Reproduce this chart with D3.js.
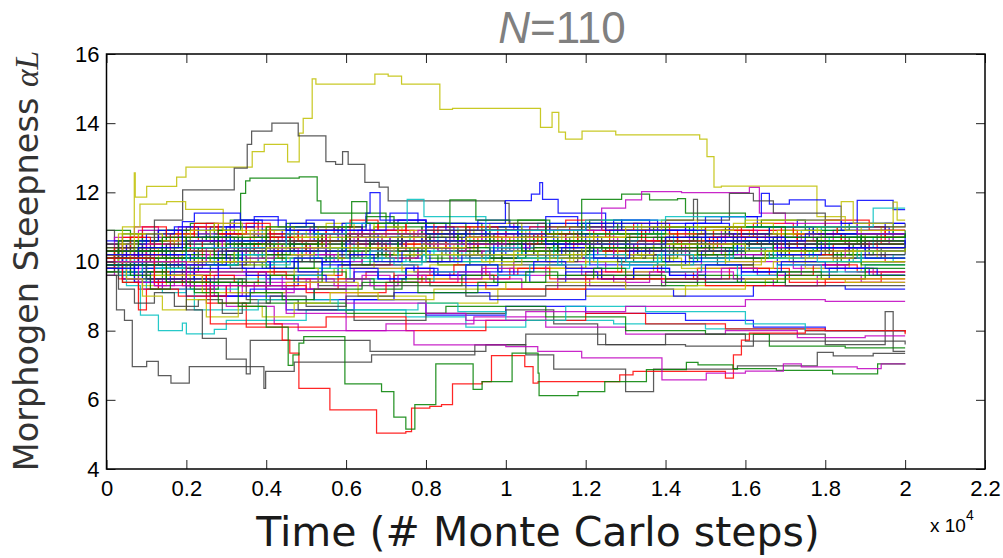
<!DOCTYPE html>
<html><head><meta charset="utf-8">
<script src="https://cdn.jsdelivr.net/npm/d3@7"></script>
<style>body{margin:0;background:#fff}svg{display:block}</style>
</head><body>
<svg id="chart" width="1003" height="558"></svg>
<script>
// ---------- DATA (time in units of 10^4 Monte Carlo steps, value = alpha*L) ----------
const xTickValues = [0,0.2,0.4,0.6,0.8,1,1.2,1.4,1.6,1.8,2,2.2];
const yTickValues = [4,6,8,10,12,14,16];
const titleText = "=110";
const titleItalic = "N";
const xLabel = "Time (# Monte Carlo steps)";
const yLabelMain = "Morphogen Steepness ";
const yLabelMath = "αL";

// prominent upper excursions  [time (x10^4), value]
const highYellow = [[0,10.0],[0.06,10.3],[0.0696,12.56],[0.072,11.86],[0.1006,12.17],[0.1757,12.44],[0.199,12.73],[0.3649,13.18],[0.395,13.39],[0.4535,12.88],[0.4826,13.71],[0.4926,14.14],[0.5151,15.28],[0.5244,15.13],[0.6721,15.42],[0.7054,15.36],[0.7389,15.13],[0.8348,14.40],[0.8665,14.43],[1.0868,13.88],[1.1158,14.31],[1.1326,13.74],[1.1494,13.54],[1.1909,13.77],[1.2753,13.66],[1.4855,13.54],[1.5038,13.03],[1.5213,12.15],[1.5398,12.18],[1.7791,11.3],[1.85,10.9],[2.0,10.9]];
const highGray = [[0,10.4],[0.12,11.2],[0.1907,12.07],[0.3199,12.70],[0.3524,13.39],[0.3634,13.77],[0.4142,14.0],[0.4801,13.63],[0.5494,12.89],[0.5737,12.81],[0.5912,13.18],[0.6052,12.81],[0.647,12.29],[0.6828,12.15],[0.7054,11.75],[0.9975,11.68],[1.0082,11.1],[1.1,10.6],[1.35,10.3],[1.6,10.5],[2.0,10.2]];
const highGreen = [[0,9.9],[0.15,10.4],[0.28,10.9],[0.3359,11.97],[0.3484,12.33],[0.3592,12.41],[0.4826,12.45],[0.5276,11.75],[0.5369,11.4],[0.7,11.1],[0.9,10.6],[1.2,10.4],[1.5,10.6],[2.0,10.3]];
const midYellow = [[0,10.2],[0.04,11.0],[0.0838,11.66],[0.1507,11.73],[0.1982,11.51],[0.2923,10.9],[0.5,10.7],[0.8,10.2],[1.2,10.5],[1.6,10.3],[2.0,10.6]];
const spikeBlue = [[0,10.2],[0.2,10.6],[0.45,10.9],[0.7,11.1],[0.999,11.76],[1.064,11.95],[1.085,12.28],[1.092,11.80],[1.131,11.40],[1.25,10.9],[1.5,10.6],[1.75,10.8],[2.0,10.5]];
const upperGreen = [[0,10.1],[0.3,10.5],[0.6,10.8],[0.9,10.6],[1.19,11.80],[1.29,11.95],[1.36,11.78],[1.43,11.82],[1.45,11.4],[1.6,11.0],[1.8,10.7],[2.0,10.9]];
const upperMagenta = [[0,10.0],[0.25,10.4],[0.55,10.8],[0.8,10.5],[1.0,10.9],[1.24,11.54],[1.30,11.78],[1.34,12.02],[1.44,11.99],[1.61,12.14],[1.635,11.4],[1.70,11.1],[1.88,10.8],[2.0,10.8]];
const upperBlue = [[0,9.9],[0.3,10.3],[0.6,10.6],[0.9,10.9],[1.2,11.1],[1.5,11.3],[1.64,11.97],[1.66,11.66],[1.71,11.78],[1.80,11.6],[1.84,11.1],[1.88,11.77],[1.97,11.5],[2.0,11.5]];
const upperGray = [[0,10.3],[0.4,10.6],[0.8,10.9],[1.1,11.0],[1.4,11.2],[1.47,11.8],[1.48,11.2],[1.56,11.97],[1.62,11.75],[1.67,11.40],[1.8,11.0],[2.0,11.1]];
const earlyBlue = [[0,9.8],[0.08,10.4],[0.19,11.15],[0.22,11.40],[0.30,11.40],[0.335,11.2],[0.45,10.9],[0.65,11.4],[0.66,11.99],[0.685,11.2],[0.8,10.8],[1.1,10.5],[1.4,10.7],[1.7,10.4],[2.0,10.6]];
const upperCyan = [[0,10.0],[0.2,10.4],[0.45,10.8],[0.6,11.1],[0.753,11.80],[0.795,11.3],[0.95,10.9],[1.2,11.2],[1.4,11.3],[1.6,11.0],[1.92,11.54],[2.0,11.54]];
const upperGreen2 = [[0,10.3],[0.2,10.7],[0.4,11.0],[0.614,11.73],[0.652,11.1],[0.86,11.78],[0.925,11.2],[1.1,10.8],[1.4,11.0],[1.7,10.7],[2.0,10.8]];
const upperYellow = [[0,10.0],[0.4,10.4],[0.9,10.7],[1.3,11.0],[1.6,11.2],[1.84,11.73],[1.87,11.1],[1.97,11.72],[1.98,11.2],[2.0,11.2]];

// prominent lower excursions
const lowGray = [[0,9.6],[0.025,8.6],[0.045,8.3],[0.0646,6.96],[0.1006,7.11],[0.1297,6.70],[0.1614,6.48],[0.2073,6.96],[0.3942,6.33],[0.3985,6.82],[0.4701,7.09],[0.6638,7.30],[0.9224,7.59],[1.05,7.3],[1.12,6.89],[1.30,6.24],[1.37,6.89],[1.58,6.98],[1.78,7.37],[1.82,7.27],[1.92,7.34],[2.0,7.34]];
const lowGray2 = [[0,10.1],[0.1,9.5],[0.2,8.6],[0.24,7.78],[0.3,7.18],[0.35,6.75],[0.36,7.72],[0.53,7.72],[0.66,7.4],[0.95,7.6],[1.05,7.9],[1.25,7.6],[1.4,7.9],[1.6,7.7],[2.0,7.6]];
const lowRed = [[0,10.1],[0.12,9.4],[0.26,8.2],[0.44,7.73],[0.459,7.35],[0.4818,6.33],[0.5594,5.71],[0.6763,5.04],[0.7496,5.08],[0.7639,5.76],[0.8097,5.81],[0.839,5.86],[0.8665,6.46],[0.9406,6.53],[0.9641,7.28],[1.0475,6.96],[1.0683,6.48],[1.0808,6.53],[1.2853,6.72],[1.3186,6.82],[1.55,6.63],[1.57,7.30],[1.59,7.73],[1.61,7.93],[1.75,8.0],[2.0,7.95]];
const lowGreen = [[0,9.9],[0.15,9.4],[0.33,8.7],[0.40,8.1],[0.455,7.0],[0.467,7.3],[0.482,7.64],[0.494,7.83],[0.597,6.46],[0.6888,6.24],[0.7196,5.50],[0.7496,5.15],[0.7722,5.86],[0.8247,7.04],[0.9181,6.30],[0.9406,6.53],[1.0157,7.35],[1.0808,6.77],[1.0833,6.12],[1.1809,6.24],[1.2478,6.53],[1.3521,6.87],[1.4522,7.08],[1.4813,7.01],[1.5689,6.90],[1.6775,6.85],[1.8184,6.75],[1.9311,7.04],[2.0,7.04]];
const lowMagenta = [[0,10.0],[0.2,9.3],[0.45,8.5],[0.6,8.0],[0.77,7.59],[1.0,7.54],[1.08,7.40],[1.19,7.21],[1.391,6.58],[1.502,6.77],[1.60,6.83],[1.695,7.04],[1.74,6.95],[1.88,6.90],[1.94,7.04],[2.0,7.06]];

// traces in the 7.5 - 9.5 range
const lowerBand = [
  [[0,9.9],[0.05,9.3],[0.085,8.45],[0.13,8.0],[0.19,8.22],[0.2,7.91],[0.27,8.04],[0.3,8.3],[0.5,8.6],[0.75,8.4],[0.9,8.1],[1.05,8.3],[1.27,8.2],[1.5,8.05],[1.75,8.0],[2.0,8.0]],
  [[0,10.0],[0.1,9.5],[0.26,9.0],[0.45,8.6],[0.62,8.9],[0.8,8.45],[1.0,8.7],[1.2,8.5],[1.45,8.3],[1.62,8.1],[1.8,8.0],[2.0,8.0]],
  [[0,10.1],[0.2,9.5],[0.35,8.9],[0.48,8.6],[0.62,8.3],[0.8,8.5],[1.0,8.6],[1.12,8.2],[1.23,7.6],[1.45,7.55],[1.62,7.9],[1.8,7.6],[1.95,8.55],[1.97,7.4],[2.0,7.4]],
  [[0,10.0],[0.12,9.3],[0.3,8.7],[0.42,8.2],[0.48,8.0],[0.7,8.2],[0.92,8.4],[1.1,8.1],[1.3,7.9],[1.55,8.0],[1.73,7.8],[1.9,7.85],[2.0,7.85]],
  [[0,10.2],[0.15,9.6],[0.25,8.8],[0.35,8.1],[0.55,8.4],[0.75,8.0],[0.95,8.3],[1.2,8.5],[1.35,8.2],[1.55,8.05],[1.8,8.0],[2.0,7.9]],
  [[0,9.9],[0.2,9.4],[0.4,8.8],[0.6,8.5],[0.85,8.7],[1.1,8.4],[1.3,8.0],[1.5,7.9],[1.66,7.55],[1.85,7.5],[2.0,7.5]],
  [[0,10.1],[0.1,9.6],[0.24,9.1],[0.45,9.4],[0.63,9.0],[0.8,8.8],[0.98,9.2],[1.2,9.0],[1.45,9.3],[1.65,9.5],[1.85,9.4],[2.0,9.4]],
  [[0,10.0],[0.07,9.4],[0.2,9.0],[0.36,9.2],[0.52,8.9],[0.72,9.1],[0.96,8.9],[1.2,9.2],[1.42,9.0],[1.62,9.3],[1.85,9.2],[2.0,9.2]],
  [[0,10.0],[0.1,9.2],[0.22,8.6],[0.38,8.9],[0.58,8.6],[0.78,8.8],[0.88,8.55],[1.0,8.3],[1.15,8.7],[1.35,8.55],[1.6,8.2],[1.75,8.0],[2.0,8.0]],
  [[0,9.9],[0.08,9.4],[0.2,9.7],[0.4,9.2],[0.6,8.8],[0.8,8.5],[0.9,8.3],[1.05,8.55],[1.3,8.7],[1.6,8.9],[1.8,8.85],[2.0,8.85]],
  [[0,10.0],[0.04,9.4],[0.08,8.6],[0.1,9.2],[0.18,9.0],[0.3,9.3],[0.5,9.1],[0.7,9.4],[0.95,9.2],[1.2,9.5],[1.5,9.3],[1.8,9.5],[2.0,9.5]],
  [[0,9.8],[0.03,9.2],[0.07,8.8],[0.12,9.1],[0.17,8.7],[0.23,8.9],[0.29,8.5],[0.34,8.8],[0.41,9.0],[0.5,8.7],[0.6,9.0],[0.72,9.3],[0.9,9.0],[1.1,9.3],[1.4,9.5],[1.7,9.3],[2.0,9.3]],
  [[0,10.0],[0.05,9.5],[0.09,9.0],[0.14,8.6],[0.2,8.9],[0.25,8.4],[0.33,8.7],[0.39,8.4],[0.47,8.8],[0.56,9.1],[0.68,8.9],[0.82,9.2],[1.0,9.4],[1.3,9.2],[1.6,9.5],[2.0,9.5]],
  [[0,10.1],[0.06,9.6],[0.11,9.2],[0.16,9.4],[0.22,9.1],[0.28,8.8],[0.36,9.1],[0.44,8.9],[0.52,9.2],[0.64,9.4],[0.78,9.1],[0.93,9.4],[1.1,9.6],[1.4,9.4],[1.7,9.6],[2.0,9.6]]
];
const lowerBandColors = ["c","b","k","m","r","g","y","b","c","m","r","k","y","g"];

// dense central band around 10, fine steps: flat [time (x10^2 steps), value, time, value, ...]
const centralFine = [
  [0,10.0,4,10.2,9,10.5,15,10.3,19,10.6,27,10.4,31,10.8,38,10.7,44,10.9,52,10.6,58,10.8,63,10.5,71,10.7,79,10.4,86,10.6,95,10.9,103,10.7,112,10.5,120,10.8,131,10.6,139,10.3,148,10.6,157,10.8,166,10.5,178,10.7,189,10.4,200,10.4],
  [0,9.9,3,9.7,8,9.5,14,9.8,22,9.6,26,9.9,33,10.1,40,9.8,47,10.0,55,10.3,61,10.1,68,10.4,76,10.2,83,9.9,91,10.2,99,10.0,108,10.3,116,10.1,125,10.4,133,10.2,142,10.5,151,10.3,160,10.1,170,10.4,181,10.2,192,10.3,200,10.3],
  [0,10.1,2,10.4,7,10.2,12,10.6,18,10.9,23,10.6,30,10.3,36,10.7,43,10.5,49,10.8,57,11.0,64,10.7,70,10.9,77,10.6,85,10.4,92,10.7,100,10.9,109,10.6,117,10.3,126,10.6,134,10.8,143,10.5,152,10.7,162,10.9,173,10.6,184,10.8,194,10.5,200,10.5],
  [0,9.8,5,10.1,10,9.8,16,9.6,21,9.9,29,10.2,35,9.9,42,10.1,48,9.8,54,10.0,62,10.3,69,10.0,75,10.2,82,10.5,89,10.2,97,10.4,105,10.1,113,10.3,122,10.0,130,10.2,138,9.9,147,10.2,156,10.4,165,10.1,176,10.3,187,10.0,197,10.2,200,10.2],
  [0,10.2,3,10.6,8,10.9,13,10.6,20,10.8,25,11.1,32,10.8,39,10.5,45,10.8,51,11.0,59,10.7,66,10.9,72,11.2,80,10.9,87,10.6,94,10.9,102,11.1,110,10.8,119,10.5,127,10.8,136,11.0,145,10.7,154,10.9,163,10.6,174,10.8,185,10.5,196,10.7,200,10.7],
  [0,9.7,4,9.5,9,9.3,15,9.6,20,9.4,26,9.7,34,9.9,41,9.6,47,9.8,53,9.5,60,9.8,67,10.0,74,9.7,81,9.9,88,10.2,96,9.9,104,10.1,111,9.8,120,10.0,128,9.7,137,9.9,146,10.2,155,9.9,164,10.1,175,9.8,186,10.0,200,10.0],
  [0,10.9,2,10.6,6,10.3,11,10.6,17,10.4,24,10.7,30,10.5,37,10.2,44,10.5,50,10.3,56,10.6,63,10.4,70,10.1,78,10.4,85,10.2,93,10.5,101,10.3,110,10.0,118,10.3,127,10.1,135,10.4,144,10.2,153,9.9,162,10.2,172,10.0,183,10.3,195,10.1,200,10.1],
  [0,10.3,4,10.0,10,10.3,15,10.1,22,10.4,28,10.7,34,10.4,41,10.6,47,10.3,55,10.5,61,10.8,68,10.5,74,10.7,81,10.4,90,10.6,98,10.3,106,10.5,115,10.8,123,10.5,132,10.3,140,10.6,149,10.4,158,10.7,168,10.4,179,10.6,190,10.3,200,10.3],
  [0,10.0,3,10.3,7,10.6,13,10.9,19,10.6,25,10.9,31,11.2,38,10.9,45,11.1,52,10.8,58,11.0,65,11.3,72,11.0,79,10.8,86,11.1,94,10.9,103,11.2,111,10.9,119,11.1,128,10.8,137,11.0,146,10.7,155,11.0,164,11.2,175,10.9,186,11.1,197,10.8,200,10.8],
  [0,9.9,3,9.5,8,9.2,13,9.5,19,9.3,25,9.6,32,9.4,38,9.7,45,9.5,51,9.2,58,9.5,65,9.7,72,9.4,79,9.6,87,9.9,95,9.6,103,9.8,111,9.5,120,9.7,129,10.0,138,9.7,147,9.5,156,9.8,166,9.6,177,9.9,188,9.7,200,9.7],
  [0,10.4,3,10.1,8,10.4,14,10.7,20,10.5,27,10.8,33,10.6,39,10.9,46,10.6,53,10.4,60,10.7,66,10.5,73,10.8,80,11.0,88,10.7,96,10.5,104,10.8,113,10.5,121,10.8,130,10.6,139,10.9,148,10.6,157,10.4,167,10.7,178,10.5,189,10.8,200,10.8],
  [0,9.6,2,9.9,7,9.6,12,9.3,17,9.6,24,9.4,31,9.1,37,9.4,44,9.2,50,9.5,57,9.3,64,9.6,71,9.4,78,9.7,86,9.5,94,9.8,102,9.6,110,9.9,119,9.6,127,9.4,136,9.7,145,9.5,154,9.8,163,9.6,174,9.9,185,9.7,200,9.7],
  [0,10.1,2,10.5,6,10.8,12,10.5,17,10.8,23,11.0,29,10.7,36,10.9,42,10.6,48,10.9,55,11.1,62,10.8,69,10.6,76,10.9,84,10.7,92,11.0,100,10.8,108,10.6,117,10.9,125,11.1,134,10.8,143,10.6,152,10.9,161,10.7,172,11.0,183,10.8,194,11.0,200,11.0],
  [0,10.0,4,9.7,9,10.0,16,9.8,22,10.1,28,9.9,35,10.2,42,10.0,49,10.3,56,10.1,63,10.4,69,10.2,76,10.0,84,10.3,91,10.1,99,10.4,107,10.2,115,10.5,124,10.3,132,10.0,141,10.3,150,10.1,159,10.4,169,10.2,180,10.5,191,10.3,200,10.3],
  [0,9.8,2,10.1,5,9.7,11,9.4,16,9.7,22,9.5,28,9.8,35,9.6,41,9.3,48,9.6,55,9.4,62,9.7,68,9.5,75,9.8,83,9.6,90,9.3,98,9.6,106,9.4,115,9.7,123,9.5,132,9.8,141,9.6,150,9.4,159,9.7,170,9.5,181,9.8,193,9.6,200,9.6],
  [0,10.5,4,10.8,9,10.6,15,10.9,21,11.1,27,10.8,34,10.5,40,10.8,46,10.6,53,10.9,60,10.7,67,11.0,73,10.8,81,10.5,88,10.8,96,11.0,104,10.7,112,10.9,121,11.2,129,10.9,138,10.6,147,10.9,156,10.7,166,11.0,177,10.8,188,10.5,200,10.5],
  [0,10.2,2,9.9,6,10.2,11,10.0,17,10.3,24,10.6,30,10.3,37,10.5,43,10.2,50,10.5,56,10.8,63,10.5,70,10.3,77,10.6,85,10.4,93,10.7,101,10.5,109,10.8,118,10.6,126,10.9,135,10.6,144,10.4,153,10.7,163,10.5,173,10.8,184,10.6,195,10.9,200,10.9],
  [0,9.9,3,9.6,9,9.4,14,9.1,20,9.4,27,9.2,33,9.5,40,9.3,47,9.6,54,9.8,61,9.5,68,9.7,75,9.4,82,9.7,90,9.9,98,9.6,106,9.9,114,10.1,123,9.8,131,10.0,140,9.7,149,9.9,158,9.6,168,9.9,179,9.7,190,9.9,200,9.9],
  [0,10.3,2,10.7,7,11.0,13,10.7,18,11.0,25,10.8,31,11.1,38,10.8,44,10.6,51,10.9,58,10.7,65,10.4,71,10.7,78,10.9,86,10.6,94,10.8,102,10.6,110,10.9,119,10.7,128,10.4,137,10.7,146,10.5,155,10.8,165,10.6,175,10.3,186,10.6,197,10.8,200,10.8],
  [0,10.0,4,10.3,10,10.0,16,10.2,23,9.9,29,10.2,36,10.4,43,10.1,49,10.3,56,10.6,63,10.3,70,10.1,77,10.4,84,10.2,92,10.5,100,10.3,108,10.0,117,10.3,125,10.1,134,10.4,143,10.2,152,10.5,161,10.3,171,10.0,182,10.3,193,10.1,200,10.1],
  [0,9.7,2,10.0,6,9.7,12,10.0,18,9.8,24,10.1,31,9.8,37,10.0,44,10.3,51,10.0,58,10.2,64,9.9,71,10.2,79,10.0,86,10.3,94,10.1,103,10.4,111,10.1,120,10.3,128,10.0,137,10.3,146,10.1,155,10.4,164,10.2,175,10.5,186,10.2,200,10.2],
  [0,10.6,3,10.3,8,10.6,13,10.9,19,10.7,26,11.0,32,11.2,39,10.9,46,11.1,52,10.8,59,11.1,66,10.9,73,11.2,80,11.0,87,10.7,95,11.0,103,10.8,111,11.1,120,10.9,129,11.2,138,10.9,147,11.1,156,10.8,166,11.0,177,10.8,188,11.1,200,11.1],
  [0,10.1,3,10.4,7,10.1,13,9.9,19,10.2,26,10.0,32,10.3,39,10.1,45,9.8,52,10.1,59,9.9,66,10.2,73,10.4,80,10.1,88,10.3,96,10.1,105,10.4,113,10.2,121,10.5,130,10.2,139,10.0,148,10.3,157,10.1,167,10.4,177,10.2,189,9.9,200,9.9],
  [0,9.8,2,10.2,5,10.5,10,10.2,16,10.5,21,10.3,28,10.6,34,10.4,41,10.7,47,10.5,54,10.8,61,10.6,68,10.3,75,10.6,82,10.4,90,10.7,98,10.5,107,10.8,115,10.5,124,10.3,133,10.6,142,10.4,151,10.7,160,10.5,171,10.2,182,10.5,193,10.3,200,10.3],
  [0,10.2,5,10.0,11,10.3,16,10.1,23,10.4,30,10.6,36,10.3,42,10.5,49,10.2,55,10.5,62,10.3,69,10.6,76,10.8,83,10.5,91,10.7,99,10.4,107,10.6,116,10.3,124,10.6,133,10.8,142,10.5,151,10.3,160,10.6,170,10.4,181,10.7,192,10.4,200,10.4],
  [0,9.9,3,10.3,7,10.0,12,10.2,18,9.9,25,10.2,31,10.0,38,10.3,44,10.5,51,10.2,57,10.0,64,10.3,71,10.1,78,10.4,86,10.1,94,10.3,102,10.6,110,10.3,119,10.1,127,10.4,136,10.2,145,10.5,154,10.2,164,10.4,174,10.1,185,10.4,200,10.4],
  [0,10.4,3,10.8,8,10.5,14,10.8,20,10.6,26,10.9,33,10.7,40,10.4,46,10.7,53,10.5,60,10.8,67,11.0,74,10.7,81,10.5,89,10.8,97,10.6,105,10.9,114,10.6,122,10.8,131,10.5,140,10.8,149,11.0,158,10.7,168,10.9,179,10.6,190,10.8,200,10.8],
  [0,10.0,2,10.3,6,10.0,11,10.4,17,10.1,23,10.4,29,10.2,35,10.5,42,10.2,48,10.0,55,10.3,62,10.1,68,10.4,75,10.6,83,10.3,90,10.5,99,10.2,107,10.5,116,10.7,124,10.4,133,10.2,142,10.5,151,10.3,161,10.6,171,10.3,182,10.1,194,10.4,200,10.4],
  [0,9.9,4,9.5,9,9.8,15,9.5,22,9.8,28,10.1,34,9.8,41,10.0,48,9.7,54,10.0,61,9.8,68,9.5,75,9.8,82,9.6,90,9.9,98,9.7,107,10.0,115,9.8,124,9.5,132,9.8,141,9.6,150,9.9,159,9.7,169,10.0,180,9.8,191,9.6,200,9.6],
  [0,10.3,3,10.0,8,10.4,14,10.1,20,10.4,27,10.2,33,10.5,40,10.7,46,10.4,53,10.6,59,10.3,66,10.6,73,10.4,80,10.7,88,10.4,96,10.2,104,10.5,112,10.3,121,10.6,130,10.4,139,10.7,148,10.4,157,10.6,167,10.3,178,10.5,189,10.7,200,10.7],
  [0,10.0,2,10.4,6,10.7,11,10.5,16,10.8,22,11.1,28,10.8,35,11.0,41,10.7,48,10.9,55,10.6,61,10.9,68,11.1,75,10.8,83,11.0,91,10.7,99,10.5,108,10.8,116,11.0,125,10.7,134,10.9,143,10.6,152,10.9,162,11.1,172,10.8,183,11.0,195,10.7,200,10.7],
  [0,10.1,3,9.8,7,10.1,12,9.8,19,10.1,25,9.9,32,10.2,38,10.0,45,10.3,52,10.1,58,10.4,65,10.1,72,9.9,79,10.2,87,10.0,95,10.3,103,10.1,112,10.4,120,10.1,129,9.9,138,10.2,147,10.0,156,10.3,166,10.1,177,10.4,188,10.1,200,10.1],
  [0,10.5,4,10.2,10,10.5,16,10.3,22,10.6,29,10.4,35,10.1,42,10.4,48,10.2,55,10.5,62,10.7,69,10.4,75,10.6,83,10.3,90,10.6,98,10.4,106,10.7,115,10.4,123,10.2,132,10.5,141,10.3,150,10.6,159,10.4,169,10.7,180,10.4,191,10.6,200,10.6],
  [0,9.8,3,10.1,8,10.4,13,10.1,19,10.3,26,10.0,32,10.3,39,10.5,45,10.2,52,10.4,58,10.1,65,10.4,72,10.2,79,10.5,87,10.2,94,10.0,102,10.3,111,10.1,119,10.4,128,10.2,137,10.5,146,10.3,155,10.0,165,10.3,175,10.1,187,10.4,200,10.4],
  [0,10.2,4,10.5,9,10.2,15,10.5,21,10.7,28,10.4,34,10.6,41,10.3,47,10.6,54,10.8,61,10.5,67,10.7,74,10.4,81,10.7,89,10.5,97,10.8,105,10.5,113,10.3,122,10.6,131,10.4,140,10.7,149,10.5,158,10.8,168,10.5,178,10.7,190,10.4,200,10.4],
  [0,10.1,5,10.5,10,10.8,17,11.0,23,10.7,30,11.0,37,11.3,43,11.0,50,11.2,57,10.9,64,11.1,71,11.4,78,11.1,85,10.9,93,11.2,101,11.0,110,11.3,118,11.0,127,11.2,136,10.9,145,11.1,154,11.3,163,11.0,173,11.2,184,10.9,195,11.1,200,11.1],
  [0,9.7,4,9.4,10,9.7,15,9.4,21,9.2,28,9.5,34,9.3,41,9.6,47,9.4,54,9.7,60,9.5,67,9.2,74,9.5,81,9.3,89,9.6,97,9.4,105,9.7,113,9.5,122,9.8,130,9.5,139,9.3,148,9.6,158,9.4,168,9.7,179,9.5,190,9.8,200,9.8],
  [0,10.3,4,10.7,9,11.0,15,10.7,22,11.0,28,10.8,35,11.1,41,10.8,48,10.6,55,10.9,61,11.2,68,10.9,75,11.1,82,10.8,90,11.0,98,10.7,106,11.0,115,11.2,124,10.9,132,11.1,141,10.8,150,11.0,159,10.7,169,11.0,180,11.2,191,10.9,200,10.9],
  [0,10.0,3,9.7,9,10.0,14,9.8,20,10.1,27,9.9,33,10.2,40,9.9,46,10.1,53,10.4,60,10.1,66,10.3,73,10.0,80,10.3,88,10.1,96,10.4,104,10.2,113,9.9,121,10.2,130,10.0,139,10.3,148,10.1,157,10.4,167,10.2,178,10.0,189,10.3,200,10.3],
  [0,9.8,4,9.5,9,9.2,14,9.5,21,9.3,27,9.0,34,9.3,40,9.1,47,9.4,53,9.2,60,9.5,66,9.3,73,9.6,80,9.4,88,9.7,96,9.5,104,9.2,113,9.5,121,9.3,130,9.6,139,9.4,148,9.7,157,9.5,167,9.3,178,9.6,189,9.4,200,9.4],
  [0,10.2,3,10.5,8,10.8,14,10.6,21,10.9,27,11.1,34,10.8,40,11.0,47,10.7,53,11.0,60,10.8,67,11.1,73,10.8,80,10.6,88,10.9,96,11.1,104,10.8,113,11.0,121,10.7,130,10.9,139,11.2,148,10.9,157,11.1,167,10.8,178,11.0,189,10.7,200,10.7],
  [0,10.5,3,10.1,8,10.4,14,10.2,20,10.5,27,10.7,33,10.4,40,10.6,46,10.3,53,10.6,60,10.8,66,10.5,73,10.7,80,10.4,88,10.2,96,10.5,104,10.7,113,10.4,121,10.6,130,10.3,139,10.6,148,10.8,157,10.5,167,10.7,178,10.4,189,10.6,200,10.6],
  [0,9.9,4,10.2,9,9.9,15,10.2,21,10.0,28,10.3,34,10.0,41,9.8,47,10.1,54,9.9,61,10.2,67,10.0,74,10.3,81,10.0,89,10.2,97,10.5,105,10.2,114,10.4,122,10.1,131,10.3,140,10.0,149,10.3,158,10.5,168,10.2,179,10.4,190,10.1,200,10.1],
  [0,10.2,3,10.6,8,10.3,14,10.7,20,10.4,27,10.1,33,10.4,40,10.2,46,10.5,53,10.7,59,10.4,66,10.6,73,10.3,80,10.6,88,10.8,96,10.5,104,10.3,113,10.6,121,10.4,130,10.7,139,10.5,148,10.2,157,10.5,167,10.3,178,10.6,189,10.8,200,10.8]
];
const centralFineColors = "bgrcmykbgrcmykbgrcmykbgrcmykbgrcmykbgrcmykbg".split("");

// slower-moving central traces [time (x10^4), value]
const centralSlow = [
  [[0,10.0],[0.08,10.3],[0.21,10.6],[0.38,10.4],[0.55,10.8],[0.74,10.5],[0.96,10.9],[1.22,10.6],[1.47,10.8],[1.73,10.4],[1.9,10.6],[2.0,10.6]],
  [[0,9.9],[0.05,9.6],[0.17,9.9],[0.33,10.2],[0.49,10.0],[0.68,10.3],[0.9,10.1],[1.1,10.4],[1.36,10.2],[1.58,10.5],[1.81,10.3],[2.0,10.3]],
  [[0,10.1],[0.06,10.5],[0.14,10.2],[0.29,10.7],[0.45,10.4],[0.63,10.9],[0.82,10.6],[1.05,10.3],[1.31,10.7],[1.55,10.9],[1.77,10.6],[2.0,10.6]],
  [[0,9.8],[0.04,10.2],[0.19,9.9],[0.36,10.3],[0.52,10.1],[0.71,10.5],[0.93,10.2],[1.16,10.0],[1.42,10.3],[1.66,10.1],[1.88,10.4],[2.0,10.4]],
  [[0,10.2],[0.09,10.8],[0.26,10.5],[0.41,10.9],[0.6,10.6],[0.79,11.0],[1.0,10.7],[1.26,10.9],[1.5,10.5],[1.7,10.8],[1.93,10.5],[2.0,10.5]],
  [[0,9.7],[0.07,9.4],[0.22,9.7],[0.4,9.5],[0.58,9.9],[0.77,9.7],[0.99,10.1],[1.21,9.9],[1.45,10.2],[1.68,9.9],[1.86,10.1],[2.0,10.1]],
  [[0,10.9],[0.06,10.4],[0.18,10.7],[0.32,10.3],[0.5,10.6],[0.69,10.2],[0.88,10.5],[1.12,10.3],[1.37,10.6],[1.61,10.3],[1.84,10.0],[2.0,10.0]],
  [[0,10.3],[0.1,10.0],[0.24,10.4],[0.43,10.1],[0.61,10.5],[0.8,10.8],[1.03,10.5],[1.27,10.2],[1.52,10.5],[1.75,10.2],[1.95,10.0],[2.0,10.0]],
  [[0,10.0],[0.03,10.4],[0.16,10.8],[0.31,10.5],[0.47,10.2],[0.66,10.6],[0.86,10.9],[1.08,11.1],[1.33,10.8],[1.56,11.0],[1.79,10.7],[2.0,10.7]],
  [[0,9.9],[0.05,9.5],[0.13,9.2],[0.27,9.6],[0.44,9.4],[0.62,9.8],[0.81,9.6],[1.02,10.0],[1.25,9.7],[1.49,10.0],[1.72,9.8],[1.92,9.6],[2.0,9.6]],
  [[0,10.4],[0.08,10.1],[0.2,10.5],[0.37,10.8],[0.54,10.4],[0.73,10.7],[0.95,10.4],[1.18,10.7],[1.4,10.5],[1.63,10.8],[1.85,10.5],[2.0,10.5]],
  [[0,9.6],[0.06,9.9],[0.19,9.4],[0.35,9.7],[0.53,9.3],[0.72,9.6],[0.94,9.9],[1.15,9.6],[1.39,9.9],[1.62,9.7],[1.83,10.0],[2.0,10.0]],
  [[0,10.1],[0.04,10.6],[0.15,10.9],[0.3,10.6],[0.46,11.0],[0.64,10.7],[0.85,10.5],[1.07,10.8],[1.3,10.5],[1.54,10.7],[1.76,11.0],[1.96,10.8],[2.0,10.8]],
  [[0,10.0],[0.07,9.7],[0.23,10.0],[0.39,9.8],[0.56,10.2],[0.76,10.0],[0.97,10.3],[1.19,10.1],[1.43,10.4],[1.65,10.2],[1.87,10.5],[2.0,10.5]],
  [[0,9.8],[0.05,10.1],[0.12,9.7],[0.28,10.0],[0.42,9.6],[0.59,9.9],[0.78,9.5],[1.01,9.8],[1.24,9.5],[1.48,9.8],[1.71,9.4],[1.94,9.7],[2.0,9.7]],
  [[0,10.5],[0.09,10.9],[0.25,10.6],[0.42,10.3],[0.6,10.7],[0.8,10.4],[1.03,10.8],[1.27,11.0],[1.5,10.7],[1.74,10.9],[1.97,10.6],[2.0,10.6]],
  [[0,10.2],[0.04,9.8],[0.17,10.1],[0.34,10.5],[0.51,10.2],[0.7,10.6],[0.91,10.3],[1.13,10.6],[1.35,10.9],[1.59,10.6],[1.82,10.9],[2.0,10.9]],
  [[0,9.9],[0.07,9.6],[0.21,9.3],[0.38,9.6],[0.57,9.8],[0.75,9.5],[0.98,9.8],[1.2,10.1],[1.44,9.8],[1.67,10.0],[1.89,9.7],[2.0,9.7]],
  [[0,10.3],[0.06,10.7],[0.2,11.0],[0.37,10.7],[0.54,10.4],[0.74,10.8],[0.96,10.5],[1.18,10.9],[1.41,10.6],[1.64,10.3],[1.86,10.7],[2.0,10.7]],
  [[0,10.0],[0.08,10.3],[0.22,10.0],[0.4,10.4],[0.59,10.1],[0.79,10.5],[1.0,10.2],[1.23,10.4],[1.46,10.1],[1.69,10.4],[1.91,10.2],[2.0,10.2]]
];
const centralSlowColors = "rcmykbgrcmykbgrcmykb".split("");

const outlierSeries = [highYellow, highGray, highGreen, midYellow, spikeBlue, upperGreen, upperMagenta, upperBlue, upperGray, earlyBlue, upperCyan, upperGreen2, upperYellow, lowGray, lowGray2, lowRed, lowGreen, lowMagenta];
const outlierColors = ["y","k","g","y","b","g","m","b","k","b","c","g","y","k","k","r","g","m"];

// ---------- DRAWING ----------
const palette = {b:"#0000ff", g:"#008000", r:"#ff0000", c:"#00bfbf", m:"#bf00bf", y:"#bfbf00", k:"#404040"};
const m = {left:106.5, right:985, top:54, bottom:469};
const svg = d3.select("#chart");
const x = d3.scaleLinear().domain([0,2.2]).range([m.left, m.right]);
const y = d3.scaleLinear().domain([4,16]).range([m.bottom, m.top]);

svg.append("defs").append("clipPath").attr("id","clip")
  .append("rect").attr("x",m.left).attr("y",m.top).attr("width",m.right-m.left).attr("height",m.bottom-m.top);

const line = d3.line().x(d=>x(d[0])).y(d=>y(d[1])).curve(d3.curveStepAfter);

// flat [t (x10^2), v, ...] -> pairs with t in units of 10^4
const toPairs = flat => d3.range(0, flat.length, 2).map(i => [flat[i]/100, flat[i+1]]);

const allSeries = [];
centralSlow.forEach((s,i)=>allSeries.push({pts:s, c:centralSlowColors[i]}));
centralFine.forEach((s,i)=>allSeries.push({pts:toPairs(s), c:centralFineColors[i]}));
lowerBand.forEach((s,i)=>allSeries.push({pts:s, c:lowerBandColors[i]}));
outlierSeries.forEach((s,i)=>allSeries.push({pts:s, c:outlierColors[i]}));

const g = svg.append("g").attr("clip-path","url(#clip)");
g.selectAll("path").data(allSeries).join("path")
  .attr("d", d=>line(d.pts))
  .attr("fill","none")
  .attr("stroke", d=>palette[d.c])
  .attr("stroke-width",1.25)
  .attr("stroke-opacity",0.85);

const fmt = d => String(+d.toFixed(1));
const tickFont = "'Liberation Sans', Arial, sans-serif";

const ax = svg.append("g").attr("transform",`translate(0,${m.bottom})`)
  .call(d3.axisBottom(x).tickValues(xTickValues).tickFormat(fmt).tickSizeInner(-9).tickSizeOuter(0).tickPadding(11));
const ay = svg.append("g").attr("transform",`translate(${m.left},0)`)
  .call(d3.axisLeft(y).tickValues(yTickValues).tickFormat(fmt).tickSizeInner(-9).tickSizeOuter(0).tickPadding(7));
const at = svg.append("g").attr("transform",`translate(0,${m.top})`)
  .call(d3.axisTop(x).tickValues(xTickValues).tickFormat("").tickSizeInner(-9).tickSizeOuter(0));
const ar = svg.append("g").attr("transform",`translate(${m.right},0)`)
  .call(d3.axisRight(y).tickValues(yTickValues).tickFormat("").tickSizeInner(-9).tickSizeOuter(0));
[ax,ay,at,ar].forEach(a=>{
  a.selectAll(".domain").remove();
  a.selectAll(".tick line").attr("stroke","#222").attr("stroke-width",1);
  a.selectAll("text").attr("fill","#000").style("font-family",tickFont).style("font-size","22px");
});

svg.append("rect").attr("x",m.left).attr("y",m.top).attr("width",m.right-m.left).attr("height",m.bottom-m.top)
  .attr("fill","none").attr("stroke","#000").attr("stroke-width",1.5);

// x10^4 multiplier
const mult = svg.append("text").attr("x",930).attr("y",532).attr("fill","#000")
  .style("font-family",tickFont).style("font-size","19px");
mult.append("tspan").text("x 10");
mult.append("tspan").attr("dy",-12).style("font-size","14px").text("4");

// title
const t = svg.append("text").attr("x",562).attr("y",43).attr("text-anchor","middle")
  .attr("fill","#808080").style("font-family",tickFont).style("font-size","44px");
t.append("tspan").style("font-style","italic").text(titleItalic);
t.append("tspan").text(titleText);

// axis labels
svg.append("text").attr("x",538).attr("y",546).attr("text-anchor","middle")
  .attr("fill","#1a1a1a").style("font-family","'DejaVu Sans', sans-serif").style("font-size","41px")
  .text(xLabel);

const yl = svg.append("text").attr("transform",`translate(38,261) rotate(-90)`).attr("text-anchor","middle")
  .attr("fill","#333").style("font-family","'DejaVu Sans', sans-serif").style("font-size","33.5px");
yl.append("tspan").text(yLabelMain);
yl.append("tspan").style("font-family","'Liberation Serif', serif").style("font-style","italic").text(yLabelMath);
</script>
</body></html>
